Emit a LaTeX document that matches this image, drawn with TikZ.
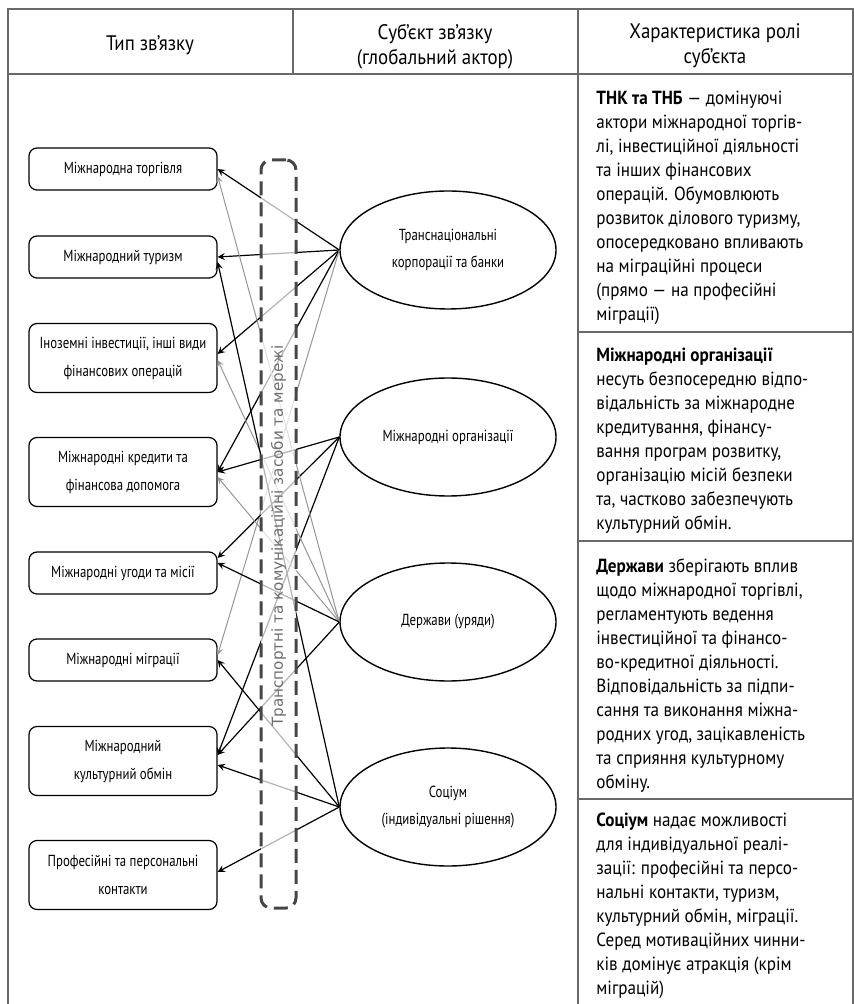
\documentclass[tikz,border=0pt]{standalone}
\usepackage{fontspec}
\setmainfont{PT Sans}[FakeStretch=0.9]
\newfontfamily\diagfont{PT Sans}[FakeStretch=0.8]
\newfontfamily\netfont{DejaVu Sans}
\usetikzlibrary{arrows,shapes,positioning}
\definecolor{tblgray}{RGB}{105,105,105}
\definecolor{lnkgray}{RGB}{150,150,150}
\definecolor{netgray}{RGB}{70,70,70}
\definecolor{lblgray}{RGB}{110,110,110}
\tikzstyle{hdr} = [align=center, inner sep=0pt, font=\fontsize{10.5}{12.5}\selectfont]
\tikzstyle{role} = [anchor=north west, align=left, inner sep=0pt, font=\fontsize{9.5}{12}\selectfont]
\tikzstyle{typebox} = [draw, rounded corners=4pt, line width=0.6pt, minimum width=94pt, minimum height=21pt, inner sep=2pt, align=center, font=\diagfont\fontsize{8}{14}\selectfont]
\tikzstyle{actor} = [draw, ellipse, line width=0.7pt, minimum width=108pt, minimum height=59pt, inner sep=0pt, align=center, font=\diagfont\fontsize{8}{13.5}\selectfont]
\tikzstyle{link} = [line width=0.6pt,->,>=stealth]
\tikzstyle{weaklink} = [line width=0.5pt,->,>=stealth,color=lnkgray]

\begin{document}
\begin{tikzpicture}[x=0.5pt, y=-0.5pt]
\useasboundingbox (0,0) rectangle (854,1004);

% Table frame
\draw[tblgray, line width=0.7pt] (8,1004) -- (8,9) -- (853,9) -- (853,1004);
\draw[tblgray, line width=0.7pt] (8,74) -- (853,74);
\draw[tblgray, line width=0.7pt] (293,9) -- (293,74);
\draw[tblgray, line width=0.7pt] (578,9) -- (578,1004);
\foreach \y in {332,541,799} {
    \draw[tblgray, line width=0.7pt] (578,\y) -- (853,\y);
}

% Header
\node[hdr] (hType) at (150,45) {Тип зв’язку};
\node[hdr] (hActor) at (435,47) {Суб’єкт зв’язку\\(глобальний актор)};
\node[hdr] (hRole) at (715,46) {Характеристика ролі\\суб’єкта};

% Types of links
\node[typebox] (trade) at (123,169) {Міжнародна торгівля};
\node[typebox] (tourism) at (123,257) {Міжнародний туризм};
\node[typebox, minimum height=34.5pt] (invest) at (123,358) {Іноземні інвестиції, інші види\\фінансових операцій};
\node[typebox, minimum height=34.5pt] (credit) at (123,472) {Міжнародні кредити та\\фінансова допомога};
\node[typebox] (treaty) at (123,573) {Міжнародні угоди та місії};
\node[typebox] (migr) at (123,660) {Міжнародні міграції};
\node[typebox, minimum height=34.5pt] (culture) at (123,761) {Міжнародний\\культурний обмін};
\node[typebox, minimum height=34.5pt] (contact) at (123,875) {Професійні та персональні\\контакти};

% Global actors
\node[actor] (tnk) at (448,250) {Транснаціональні\\корпорації та банки};
\node[actor] (intorg) at (448,437) {Міжнародні організації};
\node[actor] (state) at (448,622) {Держави (уряди)};
\node[actor] (society) at (448,807) {Соціум\\(індивідуальні рішення)};

% Links
\draw[link] (tnk.west) -- (trade.east);
\draw[link] (tnk.west) -- (tourism.east);
\draw[link] (tnk.west) -- ([yshift=2pt]invest.east);
\draw[link] (tnk.west) -- (credit.east);
\draw[weaklink] (tnk.west) -- ([yshift=2.5pt]migr.east);

\draw[link] (intorg.west) -- (credit.east);
\draw[link] (intorg.west) -- ([yshift=7.5pt]treaty.east);
\draw[link] (intorg.west) -- ([yshift=3pt]culture.east);

\draw[weaklink] (state.west) -- ([yshift=-3.5pt]trade.east);
\draw[weaklink] (state.west) -- ([yshift=-1pt]invest.east);
\draw[weaklink] (state.west) -- ([yshift=-2.5pt]credit.east);
\draw[link] (state.west) -- ([yshift=5pt]treaty.east);
\draw[link] (state.west) -- ([yshift=3pt]culture.east);

\draw[link] (society.west) -- ([yshift=-2.5pt]tourism.east);
\draw[link] (society.west) -- (migr.east);
\draw[link] (society.west) -- ([yshift=-2pt]culture.east);
\draw[link] (society.west) -- ([yshift=1.5pt]contact.east);

% Transport and communication networks
\node[draw=netgray, line width=1.5pt, dash pattern=on 7pt off 3.5pt, rounded corners=5pt,
      fill=white, fill opacity=0.7, minimum width=17.5pt, minimum height=374pt] (net) at (278.5,534) {};
\node[rotate=90, text=lblgray, font=\netfont\fontsize{7.6}{9}\selectfont] (netlbl) at (278.5,536) {Транспортні та комунікаційні засоби та мережі};

% Role of actors
\node[role] (rTnk) at (596,91) {\textbf{ТНК та ТНБ} — домінуючі\\
актори міжнародної торгів-\\
лі, інвестиційної діяльності\\
та інших фінансових\\
операцій. Обумовлюють\\
розвиток ділового туризму,\\
опосередковано впливають\\
на міграційні процеси\\
(прямо — на професійні\\
міграції)};
\node[role] (rOrg) at (596,348) {\textbf{Міжнародні організації}\\
несуть безпосередню відпо-\\
відальність за міжнародне\\
кредитування, фінансу-\\
вання програм розвитку,\\
організацію місій безпеки\\
та, частково забезпечують\\
культурний обмін.};
\node[role] (rState) at (596,558) {\textbf{Держави} зберігають вплив\\
щодо міжнародної торгівлі,\\
регламентують ведення\\
інвестиційної та фінансо-\\
во-кредитної діяльності.\\
Відповідальність за підпи-\\
сання та виконання міжна-\\
родних угод, зацікавленість\\
та сприяння культурному\\
обміну.};
\node[role] (rSoc) at (596,813) {\textbf{Соціум} надає можливості\\
для індивідуальної реалі-\\
зації: професійні та персо-\\
нальні контакти, туризм,\\
культурний обмін, міграції.\\
Серед мотиваційних чинни-\\
ків домінує атракція (крім\\
міграцій)};
\end{tikzpicture}
\end{document}
